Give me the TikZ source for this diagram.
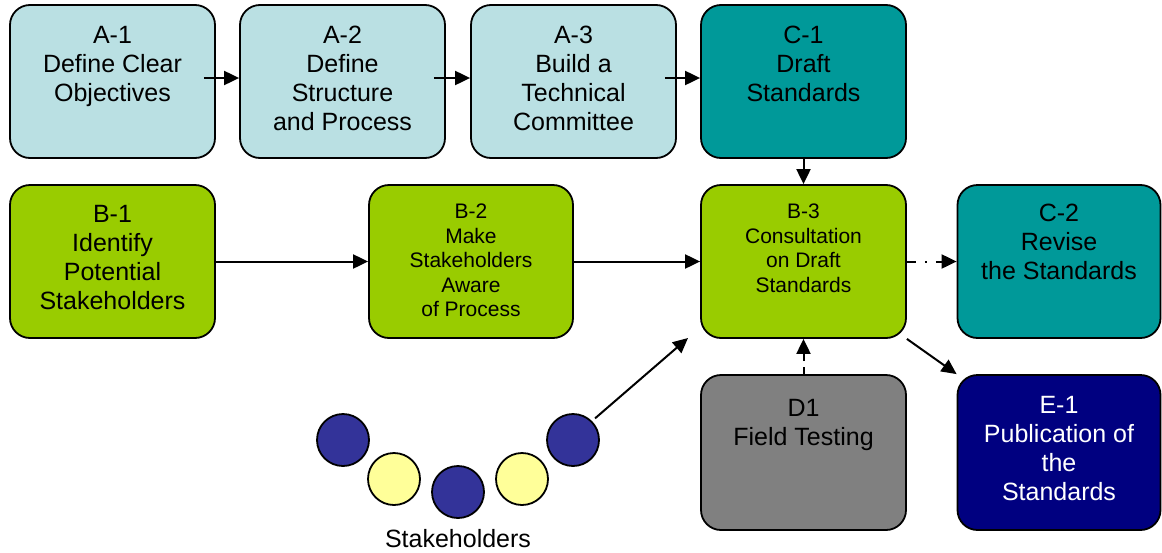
\documentclass[tikz,border=0pt]{standalone}
\usepackage{fontspec}
\setmainfont{Liberation Sans}
\usetikzlibrary{arrows.meta}

\definecolor{alight}{HTML}{BAE0E3}
\definecolor{cteal}{HTML}{009999}
\definecolor{bgreen}{HTML}{99CC00}
\definecolor{dgray}{HTML}{808080}
\definecolor{enavy}{HTML}{000080}
\definecolor{sblue}{HTML}{333399}
\definecolor{syellow}{HTML}{FFFF99}

\tikzset{
  box/.style={draw, line width=1.8pt, rounded corners=20pt, minimum width=205pt, minimum height=153pt, inner sep=0pt},
  txt/.style={anchor=north, inner sep=0pt, align=center, font=\fontsize{25}{29}\selectfont},
  small/.style={font=\fontsize{21}{24.5}\selectfont},
  arr/.style={line width=2pt, -{Triangle[length=15pt,width=14pt]}},
  stake/.style={circle, draw, line width=1.8pt, minimum size=52pt, inner sep=0pt}
}

\begin{document}
\begin{tikzpicture}[x=1pt, y=-1pt]
        \useasboundingbox (0,0) rectangle (1162,552);
        % top row
        \node[box, fill=alight] (a1) at (112.5,81.5) {};
        \node[box, fill=alight] (a2) at (342.5,81.5) {};
        \node[box, fill=alight] (a3) at (573.5,81.5) {};
        \node[box, fill=cteal] (c1) at (803.5,81.5) {};
        % middle row
        \node[box, fill=bgreen] (b1) at (112.5,261.5) {};
        \node[box, fill=bgreen, minimum width=204pt] (b2) at (471,261.5) {};
        \node[box, fill=bgreen] (b3) at (803.5,261.5) {};
        \node[box, fill=cteal, minimum width=203pt] (c2) at (1059,261.5) {};
        % bottom row
        \node[box, fill=dgray, minimum height=155pt] (d1) at (803.5,452.5) {};
        \node[box, fill=enavy, minimum width=203pt, minimum height=155pt] (e1) at (1059,452.5) {};
        % texts
        \node[txt, yshift=-22pt] (a1t) at (a1.north) {A-1\\Define Clear\\Objectives};
        \node[txt, yshift=-22pt] (a2t) at (a2.north) {A-2\\Define\\Structure\\and Process};
        \node[txt, yshift=-22pt] (a3t) at (a3.north) {A-3\\Build a\\Technical\\Committee};
        \node[txt, yshift=-22pt] (c1t) at (c1.north) {C-1\\Draft\\Standards};
        \node[txt, yshift=-21pt] (b1t) at (b1.north) {B-1\\Identify\\Potential\\Stakeholders};
        \node[txt, small, yshift=-20pt] (b2t) at (b2.north) {B-2\\Make\\Stakeholders\\Aware\\of Process};
        \node[txt, small, yshift=-20pt] (b3t) at (b3.north) {B-3\\Consultation\\on Draft\\Standards};
        \node[txt, yshift=-20pt] (c2t) at (c2.north) {C-2\\Revise\\the Standards};
        \node[txt, yshift=-25pt] (d1t) at (d1.north) {D1\\Field Testing};
        \node[txt, text=white, yshift=-22pt] (e1t) at (e1.north) {E-1\\Publication of\\the\\Standards};
        % stakeholders
        \node[stake, fill=sblue] (s1) at (343,440) {};
        \node[stake, fill=syellow] (s2) at (394,479) {};
        \node[stake, fill=sblue] (s3) at (458,492) {};
        \node[stake, fill=syellow] (s4) at (522,479) {};
        \node[stake, fill=sblue] (s5) at (573,440) {};
        \node[font=\fontsize{25}{29}\selectfont] (stk) at (458,539) {Stakeholders};
        \coordinate (b3in) at (688,338);
        % connectors
        \draw[arr, shorten <=-12pt] ([yshift=3.5pt]a1.east) -- ([yshift=3.5pt]a2.west);
        \draw[arr, shorten <=-12pt] ([yshift=3.5pt]a2.east) -- ([yshift=3.5pt]a3.west);
        \draw[arr, shorten <=-12pt] ([yshift=3.5pt]a3.east) -- ([yshift=3.5pt]c1.west);
        \draw[arr] (c1) -- (b3);
        \draw[arr] (b1) -- (b2);
        \draw[arr] (b2) -- (b3);
        \draw[arr, dash pattern=on 9pt off 9pt on 2pt off 9pt] (b3) -- (c2);
        \draw[arr, dash pattern=on 7pt off 6pt] (d1) -- (b3);
        \draw[arr] (b3.south east) -- (e1.north west);
        \draw[arr, shorten <=4pt] (s5.north east) -- (b3in);
    \end{tikzpicture}
\end{document}
